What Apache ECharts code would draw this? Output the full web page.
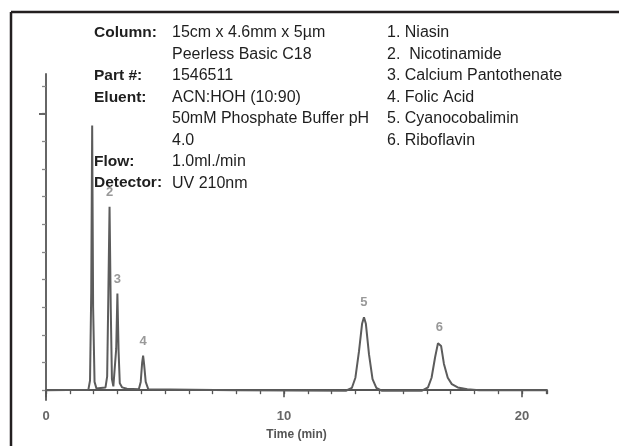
<!DOCTYPE html>
<html>
<head>
<meta charset="utf-8">
<script src="https://cdn.jsdelivr.net/npm/echarts@6/dist/echarts.min.js"></script>
<style>html,body{margin:0;padding:0;background:#fff}#c{width:619px;height:446px}</style>
</head>
<body>
<div id="c"></div>
<script>
// Chromatogram trace (time in min, signal in y-tick units)
const traceTime = [0, 1.78, 1.85, 1.90, 1.94, 1.98, 2.04, 2.12, 2.30, 2.50, 2.57, 2.62, 2.67, 2.72, 2.77, 2.83, 2.90, 2.95, 3.00, 3.05, 3.10, 3.20, 3.40, 3.90, 3.98, 4.04, 4.08, 4.12, 4.19, 4.30, 8.0, 12.6, 12.85, 13.00, 13.15, 13.28, 13.36, 13.44, 13.57, 13.72, 13.88, 14.10, 15.80, 16.05, 16.20, 16.35, 16.47, 16.53, 16.60, 16.72, 16.88, 17.05, 17.30, 17.70, 18.20, 21.05];
const traceSignal = [0, 0.02, 0.35, 3.5, 9.57, 3.0, 0.3, 0.06, 0.08, 0.1, 0.5, 3.5, 6.63, 3.0, 0.4, 0.14, 0.14, 1.5, 3.49, 1.4, 0.25, 0.1, 0.05, 0.03, 0.3, 1.0, 1.25, 0.95, 0.3, 0.03, 0.0, -0.02, 0.08, 0.45, 1.4, 2.4, 2.64, 2.4, 1.3, 0.4, 0.08, -0.02, -0.02, 0.1, 0.45, 1.2, 1.7, 1.75, 1.6, 0.95, 0.45, 0.22, 0.1, 0.03, 0.0, 0.0];

// Peak labels
const peakNumbers = ['2', '3', '4', '5', '6'];
const peakTimes = [2.67, 3.00, 4.08, 13.36, 16.53];
const peakTops = [6.63, 3.49, 1.25, 2.64, 1.75];

// Axis ticks
const xTickLabels = [0, 10, 20];
const yTickValues = [0, 1, 2, 3, 4, 5, 6, 7, 8, 9, 10, 11];
const yMajorTicks = [10];

// Conditions text
const condLabels = ['Column:', '', 'Part #:', 'Eluent:', '', '', 'Flow:', 'Detector:'];
const condValues = ['15cm x 4.6mm x 5µm', 'Peerless Basic C18', '1546511', 'ACN:HOH (10:90)', '50mM Phosphate Buffer pH', '4.0', '1.0ml./min', 'UV 210nm'];
const compounds = ['1. Niasin', '2.  Nicotinamide', '3. Calcium Pantothenate', '4. Folic Acid', '5. Cyanocobalimin', '6. Riboflavin'];

const chart = echarts.init(document.getElementById('c'));
const FONT = '"Liberation Sans", Arial, sans-serif';
const rowY0 = 33, rowStep = 21.45;
const graphics = [
  {type: 'line', shape: {x1: 11, y1: 12, x2: 11, y2: 446}, style: {stroke: '#231f20', lineWidth: 2.5}},
  {type: 'line', shape: {x1: 11, y1: 12, x2: 619, y2: 12}, style: {stroke: '#231f20', lineWidth: 2.5}}
];
condLabels.forEach((t, i) => {
  if (t) graphics.push({type: 'text', x: 94, y: rowY0 + i * rowStep, style: {text: t, font: 'bold 15.5px ' + FONT, fill: '#1e1e1e', textVerticalAlign: 'middle'}});
});
condValues.forEach((t, i) => {
  graphics.push({type: 'text', x: 172, y: rowY0 + i * rowStep, style: {text: t, font: '16px ' + FONT, fill: '#1e1e1e', textVerticalAlign: 'middle'}});
});
compounds.forEach((t, i) => {
  graphics.push({type: 'text', x: 387, y: rowY0 + i * rowStep, style: {text: t, font: '16px ' + FONT, fill: '#1e1e1e', textVerticalAlign: 'middle'}});
});

chart.setOption({
  backgroundColor: '#fff',
  animation: false,
  grid: {left: 46, right: 72, top: 74, bottom: 40, containLabel: false},
  xAxis: [{
    type: 'value', min: 0, max: 21.05, interval: 1,
    axisLine: {lineStyle: {color: '#555', width: 1.8}},
    axisTick: {length: 4, lineStyle: {color: '#555', width: 1.3}},
    axisLabel: {show: false},
    splitLine: {show: false},
    name: 'Time (min)', nameLocation: 'middle', nameGap: 29,
    nameTextStyle: {color: '#555', fontSize: 12, fontWeight: 'bold', fontFamily: FONT}
  }, {
    type: 'value', min: 0, max: 21.05, position: 'bottom',
    axisLine: {show: false},
    axisTick: {customValues: xTickLabels, length: 7, lineStyle: {color: '#555', width: 1.6}},
    axisLabel: {customValues: xTickLabels, margin: 10, color: '#666', fontSize: 13, fontWeight: 'bold', fontFamily: FONT},
    splitLine: {show: false}
  }],
  yAxis: [{
    type: 'value', min: -0.355, max: 11.43,
    axisLine: {show: true, lineStyle: {color: '#666', width: 2}},
    axisTick: {show: true, customValues: yTickValues, length: 4, lineStyle: {color: '#888', width: 1.3}},
    axisLabel: {show: false},
    splitLine: {show: false}
  }, {
    type: 'value', min: -0.355, max: 11.43, position: 'left',
    axisLine: {show: false},
    axisTick: {show: true, customValues: yMajorTicks, length: 7, lineStyle: {color: '#666', width: 2}},
    axisLabel: {show: false},
    splitLine: {show: false}
  }],
  series: [{
    type: 'line',
    data: traceTime.map((t, i) => [t, traceSignal[i]]),
    showSymbol: false, symbol: 'none',
    lineStyle: {color: '#5c5c5c', width: 2},
    z: 3
  }, {
    type: 'scatter',
    data: peakTimes.map((t, i) => ({value: [t, peakTops[i]], name: peakNumbers[i]})),
    symbolSize: 0,
    label: {show: true, position: 'top', distance: 8, formatter: p => p.name, color: '#808080', fontSize: 13, fontWeight: 'bold', fontFamily: FONT},
    silent: true
  }],
  graphic: graphics
});
</script>
</body>
</html>
